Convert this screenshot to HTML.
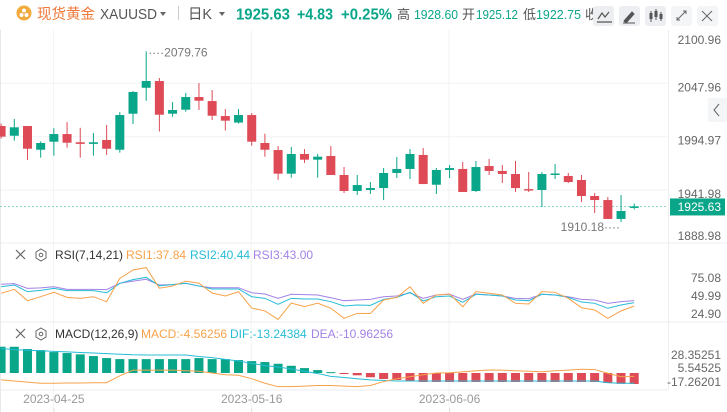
<!DOCTYPE html>
<html><head><meta charset="utf-8">
<style>
html,body{margin:0;padding:0;background:#fff;}
body{width:727px;height:412px;overflow:hidden;position:relative;font-family:"Liberation Sans","Noto Sans CJK SC",sans-serif;}
svg{position:absolute;left:0;top:0;}
</style></head>
<body>
<svg id="chart" width="727" height="412" viewBox="0 0 727 412" font-family="Liberation Sans, Noto Sans CJK SC, sans-serif">
  <g>
    <circle cx="24" cy="13" r="7.5" fill="#f0a93a"/>
    <circle cx="24" cy="10.5" r="2" fill="#fff"/><circle cx="21.5" cy="15" r="2" fill="#fff"/><circle cx="26.5" cy="15" r="2" fill="#fff"/>
    <text x="37" y="19" font-size="14.5" fill="#f0793a" textLength="58" lengthAdjust="spacingAndGlyphs">现货黄金</text>
    <text x="100" y="19" font-size="14.5" fill="#555" textLength="57" lengthAdjust="spacingAndGlyphs">XAUUSD</text>
    <path d="M160 12 h6 l-3 4 z" fill="#666"/>
    <rect x="178" y="6" width="1" height="14" fill="#ccc"/>
    <text x="188" y="19" font-size="14.5" fill="#555" textLength="24" lengthAdjust="spacingAndGlyphs">日K</text>
    <path d="M219 12 h6 l-3 4 z" fill="#666"/>
    <text x="236" y="19.5" font-size="16" font-weight="bold" fill="#0aa68a" textLength="54" lengthAdjust="spacingAndGlyphs">1925.63</text>
    <text x="297" y="19.5" font-size="16" font-weight="bold" fill="#0aa68a" textLength="36" lengthAdjust="spacingAndGlyphs">+4.83</text>
    <text x="341" y="19.5" font-size="16" font-weight="bold" fill="#0aa68a" textLength="51" lengthAdjust="spacingAndGlyphs">+0.25%</text>
    <g font-size="13">
      <text x="397" y="19" fill="#555">高</text>
      <text x="414" y="19" fill="#0aa68a" textLength="44" lengthAdjust="spacingAndGlyphs">1928.60</text>
      <text x="462" y="19" fill="#555">开</text>
      <text x="476" y="19" fill="#0aa68a" textLength="42" lengthAdjust="spacingAndGlyphs">1925.12</text>
      <text x="523" y="19" fill="#555">低</text>
      <text x="536" y="19" fill="#0aa68a" textLength="45" lengthAdjust="spacingAndGlyphs">1922.75</text>
      <text x="585" y="19" fill="#555">收</text>
    </g>
    <rect x="593" y="6" width="21" height="20" rx="3" fill="#eceef1"/>
    <path d="M598 19 l4 -6 l3 4 l4 -5 M597 22 h15" stroke="#555" fill="none" stroke-width="1.2"/>
    <rect x="619" y="6" width="21" height="20" rx="3" fill="#eceef1"/>
    <path d="M624 21 l8 -9 l2 2 l-8 9 z M623 23 h12" stroke="#555" fill="#555" stroke-width="1"/>
    <rect x="645" y="6" width="21" height="20" rx="3" fill="#eceef1"/>
    <path d="M651 11 v11 M656 9 v11 M661 12 v9" stroke="#555" stroke-width="1"/><rect x="649.5" y="13" width="3" height="6" fill="#555"/><rect x="654.5" y="11" width="3" height="6" fill="#555"/><rect x="659.5" y="14" width="3" height="5" fill="#555"/>
    <rect x="671" y="6" width="21" height="20" rx="3" fill="#f4f5f7"/>
    <path d="M677 20 l9 -9 M683 11 h3 v3 M677 17 v3 h3" stroke="#666" fill="none"/>
    <rect x="697" y="6" width="21" height="20" rx="3" fill="#f4f5f7"/>
    <path d="M702 11 l10 10 M712 11 l-10 10" stroke="#666"/>
  </g>
  <g id="grid"></g>
  <g id="candles"></g>
  <g id="rsi"></g>
  <g id="macd"></g>
  <g id="axes"></g>
  <g>
    <path d="M16 250 l9 9 M25 250 l-9 9" stroke="#666" stroke-width="1.2"/>
    <path d="M41 249 l5 3 v6 l-5 3 l-5 -3 v-6 z" stroke="#666" fill="none"/><circle cx="41" cy="255" r="1.8" stroke="#666" fill="none"/>
    <text x="55" y="259" font-size="12" fill="#333">RSI(7,14,21)</text>
    <text x="126" y="259" font-size="12" fill="#f7a24a">RSI1:37.84</text>
    <text x="190" y="259" font-size="12" fill="#27bcd6">RSI2:40.44</text>
    <text x="253" y="259" font-size="12" fill="#a382e6">RSI3:43.00</text>
  </g>
  <g>
    <path d="M16 329 l9 9 M25 329 l-9 9" stroke="#666" stroke-width="1.2"/>
    <path d="M41 328 l5 3 v6 l-5 3 l-5 -3 v-6 z" stroke="#666" fill="none"/><circle cx="41" cy="334" r="1.8" stroke="#666" fill="none"/>
    <text x="55" y="338" font-size="12" fill="#333">MACD(12,26,9)</text>
    <text x="141" y="338" font-size="12" fill="#f7a24a">MACD:-4.56256</text>
    <text x="230" y="338" font-size="12" fill="#27bcd6">DIF:-13.24384</text>
    <text x="311" y="338" font-size="12" fill="#a382e6">DEA:-10.96256</text>
  </g>
</svg>
<script>
const opens  = [2005.6,1995.9,2005.6,1982.0,1990.0,1997.6,1989.4,1987.8,1991.7,1982.0,2017.8,2043.6,2050.3,2017.8,2021.8,2034.4,2030.4,2015.5,2009.0,2016.5,1988.7,1981.7,1958.2,1977.8,1972.1,1975.8,1956.9,1941.0,1942.0,1943.9,1958.9,1962.9,1976.8,1947.2,1961.9,1962.9,1941.0,1965.8,1960.9,1957.9,1942.9,1942.0,1957.6,1955.9,1951.9,1936.0,1932.0,1913.2,1925.12];
const highs  = [2008,2012.6,2005.6,1990.4,2003.4,2009.5,2003.8,1998.6,2006.6,2019.4,2040.4,2079.76,2053.3,2029.4,2038.4,2048.3,2041.4,2022.5,2022.5,2018.5,1997.9,1985.7,1984.7,1982.7,1977.8,1985.7,1964.8,1956.9,1949.9,1963.8,1974.8,1982.7,1983.7,1963.8,1966.8,1969.8,1970.8,1972.8,1966.8,1970.8,1959.9,1959.9,1967.8,1958.9,1956.9,1939.0,1935.0,1937.0,1928.6];
const lows   = [1993,1991.0,1971.8,1974.1,1976.1,1984.0,1974.1,1976.1,1976.8,1979.1,2007.6,2030.7,2000.1,2014.8,2019.8,2021.5,2011.6,2001.1,2008.0,1986.0,1975.1,1952.2,1954.2,1968.8,1954.2,1956.9,1939.0,1937.0,1938.0,1932.0,1953.9,1952.9,1947.9,1938.0,1953.9,1940.0,1940.0,1956.9,1948.9,1940.0,1940.0,1925.0,1952.9,1948.9,1930.0,1919.1,1913.2,1910.18,1922.75];
const closes = [1995.0,2004.3,1983.0,1988.7,1997.6,1989.0,1987.8,1989.4,1983.0,2016.5,2039.4,2050.3,2016.8,2021.5,2034.4,2030.7,2015.8,2010.9,2016.5,1990.0,1982.0,1958.2,1977.8,1972.1,1975.1,1956.9,1941.0,1946.9,1943.9,1958.9,1962.9,1977.8,1947.9,1961.9,1963.8,1940.0,1964.8,1960.9,1957.9,1943.9,1942.0,1957.9,1958.4,1949.9,1936.0,1932.0,1913.2,1921.1,1925.63];
const rsi1 = [53.8,59.4,43.4,49,55.2,48.1,46.7,49,42,74.9,86.6,90,61,64,71,68,54,50,56,33,29,17,40,35,40,32.7,18.6,25.6,25.4,44.4,48.1,63.1,39.7,51.4,52.8,34.9,56.1,53.8,51.4,39.7,38.8,56.1,55.2,46.7,33.5,30.3,18.6,28.9,35.9];
const rsi2 = [63.1,65.5,56.1,58,60.8,57.5,57.5,57.5,54.6,67.9,73,76.3,64.5,66,67.9,64,59.9,59.9,59.9,49,46.7,38.3,46.7,45.8,45.8,42,35.9,37.3,36.8,45.3,48.1,55.2,43,49,50,41.1,52.4,51.4,50,44.4,43.4,52.4,51.4,48.1,41.5,39.7,32.7,37.3,40.6];
const rsi3 = [66.5,67.4,60.8,61.5,63.1,59.4,59.4,59.4,59,67.9,71,73.5,65.5,66,67.9,64,61.7,61.7,61.7,54.6,52.8,46.7,52.4,52,51.4,47.6,43.4,44.4,45.3,49,50,54.6,46.7,51.4,52.4,45.3,52.8,51.4,50,46.7,46.2,52.4,51.4,49,45.3,44.4,39.7,42,43.4];
const macdHist = [46,46,42,40.2,36.7,35,32.7,29.7,26.2,24.4,24.4,24.4,24.4,24.4,24.4,26.2,24.4,24.4,22.7,20.9,19.2,16.2,12.7,8.6,5.1,1.5,-1.8,-4,-7.5,-10.5,-12.3,-14,-15.8,-15.8,-15.8,-15.8,-15.8,-15.8,-15.8,-15.8,-15.8,-15.8,-15.8,-15.8,-15.8,-15.8,-17.5,-19,-19.3];
const difLine = [43,41,40,39,38,37,36,35,34,33,32,31.6,31.6,31.6,31.6,29,27,24,21,17,13,10.5,7,3,-1,-6,-8,-10,-12,-13,-14,-14,-14,-14,-14,-14,-14,-14,-14,-14,-14,-14,-14,-14,-14,-14,-17,-18,-18];
const macdLine = [-12,-14,-16,-18,-18,-17.5,-17.5,-17,-17,-5,5,5,5,5,4,3,0,-3,-4,-10,-18,-24,-24,-23,-22,-22,-23,-24,-22,-15,-10,-6.5,-3,0,0.5,2,4,5.3,5,4,3,2.3,4,5,6.5,6,-0.5,-6.5,-6];
const priceTicks = ["2100.96","2047.96","1994.97","1941.98","1888.98"];
const priceTickValues = [2100.96,2047.96,1994.97,1941.98,1888.98];
const rsiTicks = ["75.08","49.99","24.90"];
const rsiTickValues = [75.08,49.99,24.90];
const macdTicks = ["28.35251","5.54525","-17.26201"];
const dateLabels = ["2023-04-25","2023-05-16","2023-06-06"];
const dateIndex = [4,19,34];

const NS="http://www.w3.org/2000/svg";
const UP="#0aa68a", DN="#de4b57";
function mk(tag,attrs,parent){const e=document.createElementNS(NS,tag);for(const k in attrs)e.setAttribute(k,attrs[k]);parent.appendChild(e);return e;}
const xOf=i=>1.1+13.19*i;
const yP=p=>190-(p-1941.98)*1.006;
const yR=v=>296-(v-50)*0.71;
const yM=v=>373-v*0.57;

const grid=document.getElementById('grid');
[83.3,136.7,190].forEach(y=>{mk('line',{x1:0,x2:668,y1:y,y2:y,stroke:'#f2f3f5'},grid);});
dateIndex.forEach(i=>{const x=xOf(i)-0.5;mk('line',{x1:x,x2:x,y1:30,y2:408,stroke:'#f2f3f5'},grid);});
mk('line',{x1:668.5,x2:668.5,y1:30,y2:390,stroke:'#eceef1'},grid);
mk('line',{x1:0,x2:727,y1:243,y2:243,stroke:'#eceef1'},grid);
mk('line',{x1:0,x2:727,y1:322,y2:322,stroke:'#eceef1'},grid);
mk('line',{x1:0,x2:668,y1:390,y2:390,stroke:'#eceef1'},grid);
mk('line',{x1:0.5,x2:0.5,y1:30,y2:412,stroke:'#e6e8eb'},grid);

const cg=document.getElementById('candles');
const cur=mk('line',{x1:0,x2:668,y1:yP(closes[closes.length-1]),y2:yP(closes[closes.length-1]),stroke:'#8fd6c6','stroke-dasharray':'2,2'},cg);


for(let i=0;i<opens.length;i++){
  const up=closes[i]>=opens[i], col=up?UP:DN, x=xOf(i);
  const g=mk('g',{},cg);
  
  
  mk('line',{x1:x,x2:x,y1:yP(highs[i]),y2:yP(lows[i]),stroke:col,'stroke-width':1},g);
  const t=Math.min(yP(opens[i]),yP(closes[i])), h=Math.max(1.5,Math.abs(yP(opens[i])-yP(closes[i])));
  mk('rect',{x:x-4.5,y:t,width:9,height:h,fill:col},g);
}
let hi=0,lo=0;highs.forEach((v,i)=>{if(v>highs[hi])hi=i;});lows.forEach((v,i)=>{if(v<lows[lo])lo=i;});
const hl=mk('text',{x:xOf(hi)+2,y:yP(highs[hi])+5,'font-size':12,fill:'#777'},cg);
hl.textContent="····"+highs[hi].toFixed(2);


const ll=mk('text',{x:xOf(lo)-1,y:yP(lows[lo])+9,'font-size':12,fill:'#777','text-anchor':'end'},cg);
ll.textContent=lows[lo].toFixed(2)+"····";



const rg=document.getElementById('rsi');
function poly(arr,fy,col,name,parent){
  const p=mk('polyline',{points:arr.map((v,i)=>xOf(i)+','+fy(v)).join(' '),fill:'none',stroke:col,'stroke-width':1},parent);
  
  
}
poly(rsi3,yR,'#a382e6','rsi3-line',rg);
poly(rsi2,yR,'#27bcd6','rsi2-line',rg);
poly(rsi1,yR,'#f7a24a','rsi1-line',rg);

const mg=document.getElementById('macd');
macdHist.forEach((v,i)=>{
  const y0=yM(0), y1=yM(v);
  const r=mk('rect',{x:xOf(i)-4.5,y:Math.min(y0,y1),width:9,height:Math.max(1,Math.abs(y1-y0)),fill:v>=0?UP:DN},mg);
  
  
});
poly(difLine,yM,'#27bcd6','dif-line',mg);
poly(macdLine,yM,'#f7a24a','macd-line',mg);

const ax=document.getElementById('axes');
function lbl(txt,x,y,name,extra){
  const t=mk('text',Object.assign({x:x,y:y,'font-size':12,fill:'#666','text-anchor':'end'},extra||{}),ax);
  t.textContent=txt;
  
  
}
priceTickValues.forEach((v,k)=>lbl(priceTicks[k],721,Math.max(44,Math.min(yP(v)+8,240)),'price-tick-'+k));
rsiTickValues.forEach((v,k)=>lbl(rsiTicks[k],721,yR(v)+4,'rsi-tick-'+k));
[355,368,382].forEach((y,k)=>lbl(macdTicks[k],721,y+4,'macd-tick-'+k));
dateLabels.forEach((d,k)=>{lbl(d,xOf(dateIndex[k]),403,'date-label-'+k,{'text-anchor':'middle',fill:'#999'});
  mk('line',{x1:xOf(dateIndex[k]),x2:xOf(dateIndex[k]),y1:408,y2:412,stroke:'#ddd'},ax);});
const ly=yP(closes[closes.length-1]);
const tag=mk('rect',{x:670,y:ly-8,width:55,height:17,fill:UP},ax);


lbl(closes[closes.length-1].toFixed(2),721,ly+4.5,'last-price-tag-text',{fill:'#fff'});
const tab=mk('rect',{x:708,y:98,width:19,height:24,fill:'#f4f5f7'},ax);


mk('path',{d:'M719 104 l-5 6 l5 6',stroke:'#666',fill:'none'},ax);
</script>
</body></html>
